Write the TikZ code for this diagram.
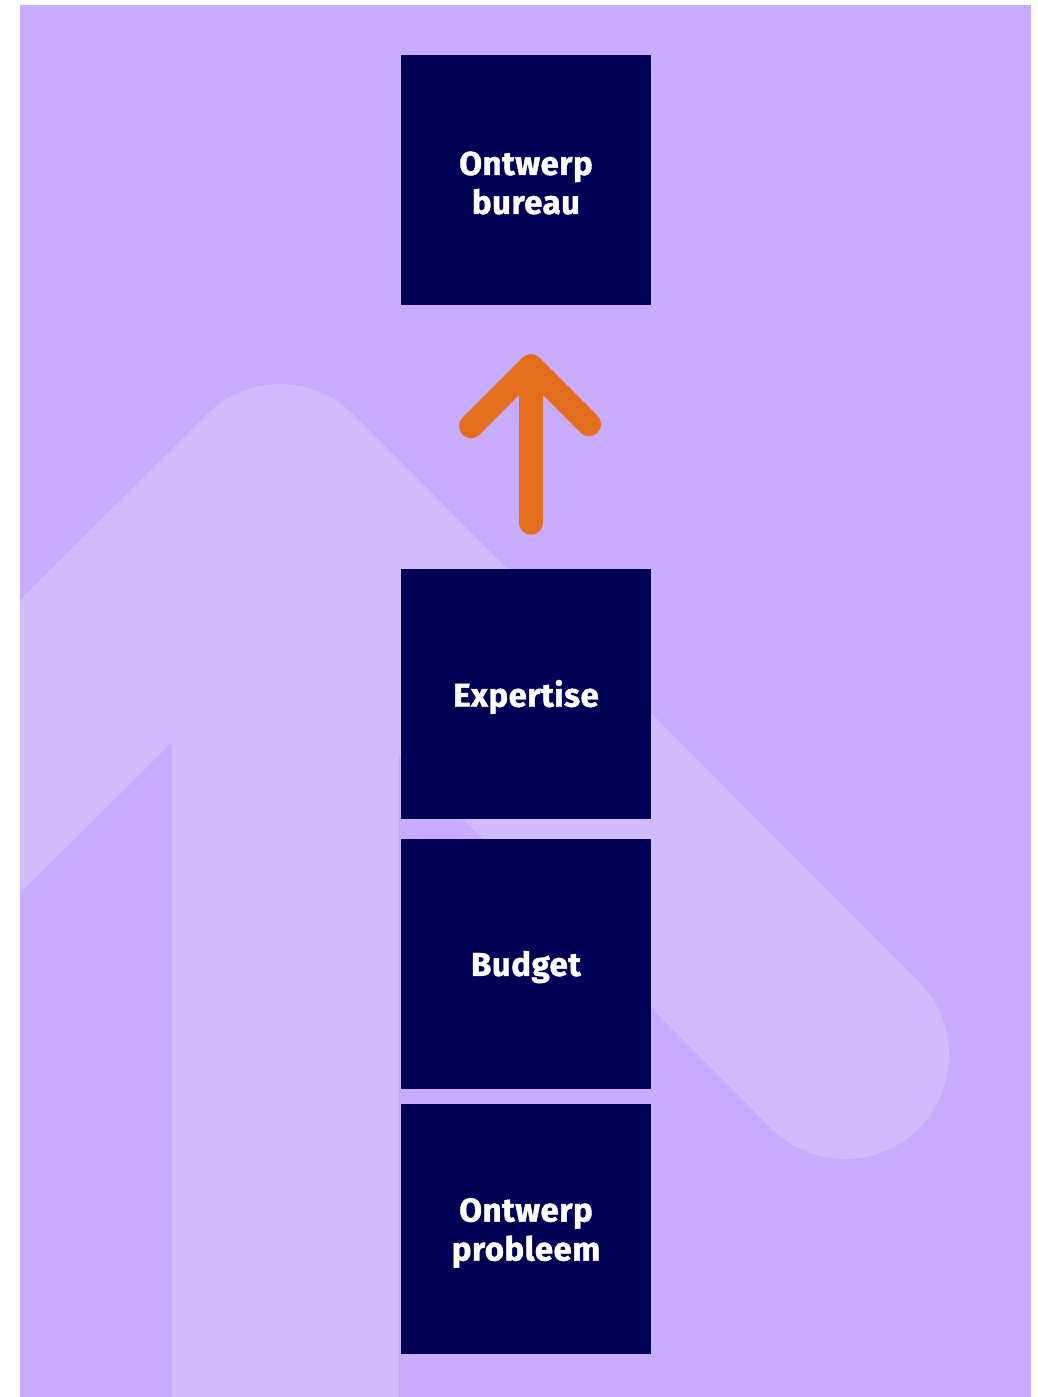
\documentclass[tikz,border=0pt]{standalone}
\usepackage{fontspec}
\setmainfont{Fira Sans}
\newfontfamily\boxfont{Fira Sans Bold}[FakeBold=1.3, LetterSpace=1.5]
\usetikzlibrary{calc}
\definecolor{bgpurple}{HTML}{C8ACFF}
\definecolor{lightpurple}{HTML}{D2BBFF}
\definecolor{navybox}{HTML}{000055}
\definecolor{arroworange}{HTML}{E36E1E}
\tikzset{
  blockbox/.style={fill=navybox, minimum width=250pt, minimum height=250pt, inner sep=0pt},
  boxtext/.style={text=white, align=center, inner sep=0pt, font=\boxfont\fontsize{33}{39}\selectfont},
  orangeline/.style={draw=arroworange, line width=24pt, line cap=round, line join=round},
  bgshape/.style={draw=lightpurple, line width=208pt, line cap=round, line join=round}
}
\begin{document}
\begin{tikzpicture}[x=1pt, y=-1pt]
\useasboundingbox (0,0) rectangle (1037,1397);
\fill[white] (0,0) rectangle (1037,1397);
\fill[bgpurple] (20,5) rectangle (1031,1397);
\begin{scope}
  \clip (20,5) rectangle (1031,1397);
  \draw[bgshape] (-150,916) -- (280,488) -- (845,1055);
  \fill[lightpurple] (172,620) rectangle (399,1400);
\end{scope}
\node[blockbox] (bureau) at (526,180) {};
\node[blockbox] (expertise) at (526,694) {};
\node[blockbox] (budget) at (526,964) {};
\node[blockbox] (probleem) at (526,1229) {};
\node[boxtext] at ([yshift=-3pt]bureau.center) {Ontwerp\\bureau};
\node[boxtext] at ([yshift=-3pt]expertise.center) {Expertise};
\node[boxtext] at ([yshift=-3pt]budget.center) {Budget};
\node[boxtext] at ([yshift=-4pt]probleem.center) {Ontwerp\\probleem};
\path (expertise.north) ++(5,-46) coordinate (abot);
\path (bureau.south) ++(5,61) coordinate (atop);
\draw[orangeline] (abot) -- (atop);
\draw[orangeline] ($(atop)+(-60,60)$) -- (atop) -- ($(atop)+(58,58)$);
\end{tikzpicture}
\end{document}
